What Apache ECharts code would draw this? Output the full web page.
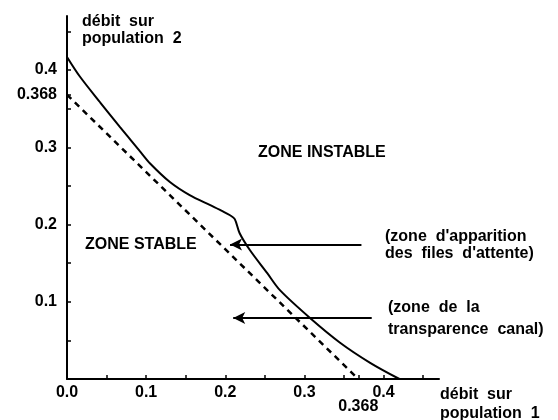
<!DOCTYPE html>
<html>
<head>
<meta charset="utf-8">
<script src="https://cdn.jsdelivr.net/npm/echarts@6/dist/echarts.min.js"></script>
<style>
  body { margin: 0; background: #fff; }
  #chart { width: 558px; height: 420px; }
</style>
</head>
<body>
<div id="chart"></div>
<script>
  // courbe limite (trait plein)
  const limitCurve = [
    [0, 0.417], [0.016, 0.392], [0.042, 0.358], [0.067, 0.326], [0.08, 0.310],
    [0.092, 0.295], [0.105, 0.279], [0.13, 0.255], [0.155, 0.238], [0.181, 0.225],
    [0.197, 0.217], [0.206, 0.212], [0.212, 0.207], [0.218, 0.189], [0.231, 0.167],
    [0.253, 0.137], [0.269, 0.115], [0.307, 0.079], [0.345, 0.047], [0.383, 0.021],
    [0.42, 0]
  ]
  // droite x + y = 0.368 (pointillés)
  const transparenceLine = [[0, 0.368], [0.368, 0]]
  // flèches : [x départ, x pointe, y]
  const arrowFiles = [0.372, 0.206, 0.174]
  const arrowCanal = [0.385, 0.210, 0.079]

  const tickValues = [0.05, 0.1, 0.15, 0.2, 0.25, 0.3, 0.35, 0.368, 0.4, 0.45]
  const xLabelValues = [0, 0.1, 0.2, 0.3, 0.4]
  const yLabelValues = [0.1, 0.2, 0.3, 0.368, 0.4]

  const labelFont = { color: '#000', fontFamily: 'Liberation Sans', fontWeight: 'bold', fontSize: 16 }
  const textFont = 'bold 16px "Liberation Sans"'

  function arrowLine (a) {
    return {
      type: 'line',
      data: [],
      markLine: {
        silent: true,
        symbol: ['none', 'arrow'],
        symbolSize: [9, 12],
        label: { show: false },
        lineStyle: { color: '#000', width: 2, type: 'solid' },
        data: [[{ coord: [a[0], a[2]] }, { coord: [a[1], a[2]] }]]
      }
    }
  }

  const option = {
    animation: false,
    backgroundColor: '#fff',
    grid: { left: 67, right: 119, top: 16, bottom: 41 },
    xAxis: {
      type: 'value',
      min: 0,
      max: 0.47,
      splitLine: { show: false },
      axisLine: { lineStyle: { color: '#000', width: 2 } },
      axisTick: { inside: true, length: 4, customValues: tickValues, lineStyle: { color: '#000', width: 1.5 } },
      axisLabel: Object.assign({
        margin: 6,
        hideOverlap: false,
        customValues: xLabelValues,
        formatter: function (v) { return v.toFixed(1) }
      }, labelFont)
    },
    yAxis: {
      type: 'value',
      min: 0,
      max: 0.47,
      splitLine: { show: false },
      axisLine: { lineStyle: { color: '#000', width: 2 } },
      axisTick: { inside: true, length: 4, customValues: tickValues, lineStyle: { color: '#000', width: 1.5 } },
      axisLabel: Object.assign({
        margin: 10,
        hideOverlap: false,
        customValues: yLabelValues,
        formatter: function (v) {
          return Math.abs(v - 0.368) < 1e-6 ? '0.368' : v.toFixed(1)
        }
      }, labelFont)
    },
    series: [
      {
        type: 'line',
        data: limitCurve,
        smooth: 0.3,
        symbol: 'none',
        lineStyle: { color: '#000', width: 2 }
      },
      {
        type: 'line',
        data: transparenceLine.map(function (p, i) {
          if (i === 0) return { value: p }
          // étiquette 0.368 sous l'axe des x
          return {
            value: p,
            label: { show: true, position: 'bottom', distance: 20, formatter: '0.368', ...labelFont }
          }
        }),
        symbol: 'circle',
        symbolSize: 0,
        lineStyle: { color: '#000', width: 2.5, type: [6, 5] }
      },
      arrowLine(arrowFiles),
      arrowLine(arrowCanal)
    ],
    graphic: [
      { type: 'text', left: 82, top: 13, style: { text: 'débit  sur\npopulation  2', font: textFont, lineHeight: 17, fill: '#000' } },
      { type: 'text', left: 440, top: 385, style: { text: 'débit  sur\npopulation  1', font: textFont, lineHeight: 19, fill: '#000' } },
      { type: 'text', left: 258, top: 145, style: { text: 'ZONE INSTABLE', font: textFont, fill: '#000' } },
      { type: 'text', left: 85, top: 237, style: { text: 'ZONE STABLE', font: textFont, fill: '#000' } },
      { type: 'text', left: 385, top: 228, style: { text: '(zone  d\'apparition\ndes  files  d\'attente)', font: textFont, lineHeight: 17, fill: '#000' } },
      { type: 'text', left: 388, top: 297, style: { text: '(zone  de  la\ntransparence  canal)', font: textFont, lineHeight: 22, fill: '#000' } }
    ]
  }

  const chart = echarts.init(document.getElementById('chart'))
  chart.setOption(option)
</script>
</body>
</html>
